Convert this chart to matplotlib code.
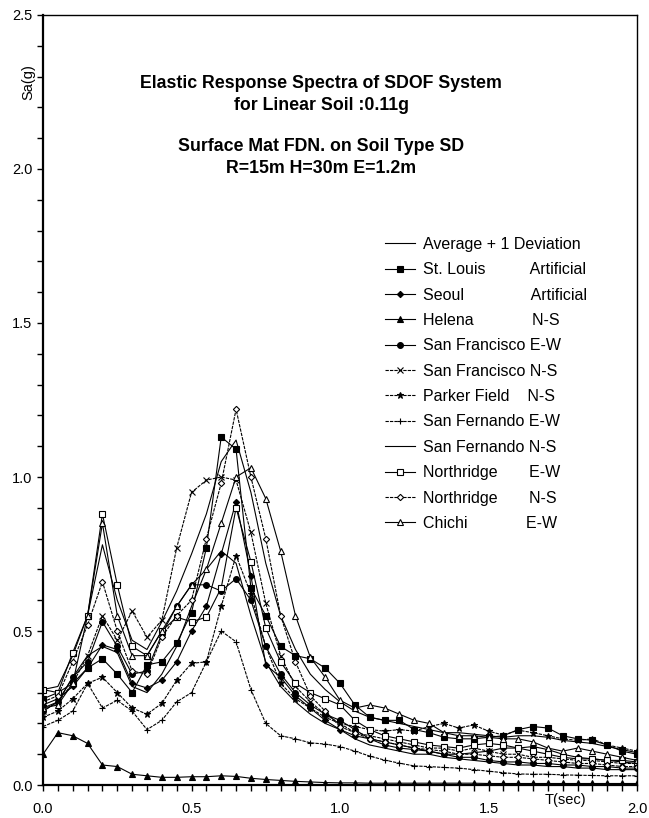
import matplotlib
matplotlib.use("Agg")
import matplotlib.pyplot as plt
from matplotlib.ticker import MultipleLocator

plt.rcParams['font.family'] = ['Liberation Sans', 'DejaVu Sans']

# periods (sec)
periods = [0.00, 0.05, 0.10, 0.15, 0.20, 0.25, 0.30, 0.35, 0.40, 0.45,
           0.50, 0.55, 0.60, 0.65, 0.70, 0.75, 0.80, 0.85, 0.90, 0.95,
           1.00, 1.05, 1.10, 1.15, 1.20, 1.25, 1.30, 1.35, 1.40, 1.45,
           1.50, 1.55, 1.60, 1.65, 1.70, 1.75, 1.80, 1.85, 1.90, 1.95, 2.00]

avg_plus_sd = [0.31, 0.32, 0.42, 0.55, 0.78, 0.60, 0.47, 0.44, 0.53, 0.63,
               0.75, 0.88, 1.05, 1.12, 0.95, 0.72, 0.55, 0.44, 0.36, 0.31,
               0.27, 0.24, 0.22, 0.21, 0.20, 0.19, 0.18, 0.17, 0.17, 0.165,
               0.16, 0.155, 0.16, 0.16, 0.155, 0.145, 0.14, 0.135, 0.125, 0.115, 0.105]

st_louis = [0.28, 0.30, 0.33, 0.38, 0.41, 0.36, 0.30, 0.39, 0.40, 0.46,
            0.56, 0.77, 1.13, 1.09, 0.64, 0.55, 0.45, 0.42, 0.41, 0.38,
            0.33, 0.26, 0.22, 0.21, 0.21, 0.18, 0.17, 0.155, 0.15, 0.15,
            0.155, 0.16, 0.18, 0.19, 0.185, 0.16, 0.15, 0.145, 0.13, 0.11, 0.10]

seoul = [0.26, 0.28, 0.32, 0.38, 0.455, 0.44, 0.33, 0.315, 0.34, 0.40,
         0.50, 0.58, 0.75, 0.92, 0.68, 0.39, 0.35, 0.29, 0.25, 0.21,
         0.18, 0.16, 0.15, 0.13, 0.12, 0.115, 0.11, 0.10, 0.10, 0.105,
         0.11, 0.12, 0.12, 0.125, 0.115, 0.10, 0.09, 0.085, 0.08, 0.075, 0.07]

helena = [0.10, 0.17, 0.16, 0.135, 0.065, 0.06, 0.035, 0.03, 0.025, 0.025,
          0.027, 0.027, 0.03, 0.028, 0.022, 0.018, 0.015, 0.012, 0.010, 0.008,
          0.007, 0.007, 0.006, 0.006, 0.006, 0.006, 0.006, 0.006, 0.006, 0.006,
          0.005, 0.005, 0.005, 0.005, 0.005, 0.005, 0.005, 0.005, 0.005, 0.005, 0.005]

sf_ew = [0.24, 0.27, 0.35, 0.40, 0.53, 0.45, 0.36, 0.37, 0.49, 0.58,
         0.65, 0.65, 0.63, 0.67, 0.60, 0.45, 0.36, 0.30, 0.26, 0.23,
         0.21, 0.18, 0.15, 0.14, 0.13, 0.12, 0.11, 0.10, 0.09, 0.09,
         0.08, 0.075, 0.075, 0.07, 0.07, 0.065, 0.065, 0.06, 0.06, 0.055, 0.055]

sf_ns = [0.24, 0.27, 0.33, 0.42, 0.55, 0.47, 0.565, 0.48, 0.535, 0.77,
         0.95, 0.99, 1.00, 0.99, 0.82, 0.59, 0.42, 0.32, 0.27, 0.23,
         0.20, 0.17, 0.16, 0.15, 0.14, 0.13, 0.12, 0.12, 0.11, 0.12,
         0.11, 0.10, 0.10, 0.09, 0.09, 0.085, 0.08, 0.08, 0.075, 0.07, 0.07]

parker_ns = [0.22, 0.24, 0.28, 0.33, 0.35, 0.30, 0.25, 0.23, 0.265, 0.34,
             0.395, 0.40, 0.58, 0.745, 0.62, 0.45, 0.33, 0.28, 0.25, 0.22,
             0.20, 0.19, 0.18, 0.175, 0.18, 0.175, 0.19, 0.20, 0.185, 0.195,
             0.175, 0.162, 0.178, 0.17, 0.16, 0.15, 0.145, 0.15, 0.13, 0.12, 0.11]

sfern_ew = [0.19, 0.21, 0.24, 0.33, 0.25, 0.275, 0.24, 0.18, 0.21, 0.27,
            0.30, 0.40, 0.50, 0.465, 0.31, 0.20, 0.16, 0.15, 0.137, 0.133,
            0.125, 0.11, 0.094, 0.081, 0.071, 0.062, 0.06, 0.057, 0.055, 0.05,
            0.045, 0.04, 0.036, 0.035, 0.035, 0.033, 0.032, 0.031, 0.03, 0.03, 0.03]

sfern_ns = [0.25, 0.27, 0.35, 0.42, 0.45, 0.43, 0.32, 0.30, 0.36, 0.45,
            0.58, 0.70, 0.76, 0.72, 0.55, 0.40, 0.32, 0.27, 0.23, 0.20,
            0.18, 0.15, 0.13, 0.12, 0.11, 0.10, 0.10, 0.09, 0.085, 0.08,
            0.075, 0.07, 0.065, 0.065, 0.06, 0.06, 0.055, 0.055, 0.05, 0.05, 0.05]

north_ew = [0.31, 0.30, 0.43, 0.55, 0.88, 0.65, 0.45, 0.42, 0.50, 0.545,
            0.53, 0.545, 0.64, 0.90, 0.725, 0.51, 0.40, 0.33, 0.30, 0.28,
            0.26, 0.21, 0.18, 0.16, 0.15, 0.14, 0.13, 0.125, 0.12, 0.13,
            0.135, 0.13, 0.12, 0.11, 0.10, 0.09, 0.085, 0.085, 0.08, 0.08, 0.075]

north_ns = [0.27, 0.29, 0.40, 0.52, 0.66, 0.50, 0.37, 0.36, 0.48, 0.55,
            0.60, 0.80, 0.98, 1.22, 1.00, 0.80, 0.55, 0.40, 0.29, 0.24,
            0.19, 0.17, 0.15, 0.14, 0.13, 0.12, 0.115, 0.11, 0.10, 0.10,
            0.095, 0.09, 0.09, 0.085, 0.08, 0.075, 0.07, 0.07, 0.065, 0.06, 0.06]

chichi_ew = [0.25, 0.26, 0.33, 0.55, 0.85, 0.55, 0.42, 0.42, 0.50, 0.58,
             0.65, 0.70, 0.85, 1.00, 1.03, 0.93, 0.76, 0.55, 0.415, 0.35,
             0.275, 0.25, 0.26, 0.25, 0.23, 0.21, 0.20, 0.17, 0.16, 0.16,
             0.155, 0.15, 0.15, 0.14, 0.12, 0.11, 0.12, 0.11, 0.10, 0.09, 0.08]

# (station, spaces before component, component)
names = [("Average + 1 Deviation", 0, ""),
         ("St. Louis", 10, "Artificial"),
         ("Seoul", 15, "Artificial"),
         ("Helena", 13, "N-S"),
         ("San Francisco", 1, "E-W"),
         ("San Francisco", 1, "N-S"),
         ("Parker Field", 4, "N-S"),
         ("San Fernando", 1, "E-W"),
         ("San Fernando", 1, "N-S"),
         ("Northridge", 7, "E-W"),
         ("Northridge", 7, "N-S"),
         ("Chichi", 13, "E-W")]
labels = [n + " " * k + c for n, k, c in names]

dotted = (0, (3, 1))
styles = [(avg_plus_sd, None, True, "-"),
          (st_louis, "s", True, "-"),
          (seoul, "D", True, "-"),
          (helena, "^", True, "-"),
          (sf_ew, "o", True, "-"),
          (sf_ns, "x", True, dotted),
          (parker_ns, "*", True, dotted),
          (sfern_ew, "+", True, dotted),
          (sfern_ns, None, True, "-"),
          (north_ew, "s", False, "-"),
          (north_ns, "D", False, dotted),
          (chichi_ew, "^", False, "-")]

fig = plt.figure(figsize=(6.49, 8.18), dpi=100)
ax = fig.add_axes([0.0663, 0.0403, 0.9152, 0.9414])

for label, (vals, mk, filled, ls) in zip(labels, styles):
    ms = 4.2
    if mk == "D":
        ms = 3.2
    if mk in ("x", "+", "*"):
        ms = 5
    ax.plot(periods, vals, color="black", lw=0.8, ls=ls, marker=mk,
            markersize=ms, markeredgewidth=0.8,
            markerfacecolor="black" if filled else "white",
            markeredgecolor="black", label=label)

ax.set_xlim(0, 2.0)
ax.set_ylim(0, 2.5)
ax.xaxis.set_major_locator(MultipleLocator(0.5))
ax.xaxis.set_minor_locator(MultipleLocator(0.05))
ax.yaxis.set_major_locator(MultipleLocator(0.5))
ax.yaxis.set_minor_locator(MultipleLocator(0.1))
ax.xaxis.set_major_formatter(plt.FormatStrFormatter("%.1f"))
ax.yaxis.set_major_formatter(plt.FormatStrFormatter("%.1f"))
ax.tick_params(which="both", direction="out", length=4, width=1.0,
               labelsize=10.5, top=False, right=False)
ax.tick_params(axis="x", pad=8)
for side in ("left", "bottom"):
    ax.spines[side].set_linewidth(1.6)
for side in ("top", "right"):
    ax.spines[side].set_linewidth(1.0)

ax.text(-0.025, 0.913, "Sa(g)", transform=ax.transAxes, rotation=90,
        ha="center", va="center", fontsize=10.5)
ax.text(0.88, -0.02, "T(sec)", transform=ax.transAxes,
        ha="center", va="center", fontsize=10.5)

tkw = dict(transform=ax.transAxes, ha="center", va="center",
           fontsize=12.8, fontweight="bold")
ax.text(0.468, 0.911, "Elastic Response Spectra of SDOF System", **tkw)
ax.text(0.468, 0.882, "for Linear Soil :0.11g", **tkw)
ax.text(0.468, 0.829, "Surface Mat FDN. on Soil Type SD", **tkw)
ax.text(0.468, 0.801, "R=15m H=30m E=1.2m", **tkw)

ax.legend(loc="upper left", bbox_to_anchor=(0.576, 0.712), frameon=False,
          borderaxespad=0, borderpad=0, fontsize=11.5, labelspacing=0.65,
          handlelength=1.9, handletextpad=0.45)

fig.savefig("out.png", dpi=100)
